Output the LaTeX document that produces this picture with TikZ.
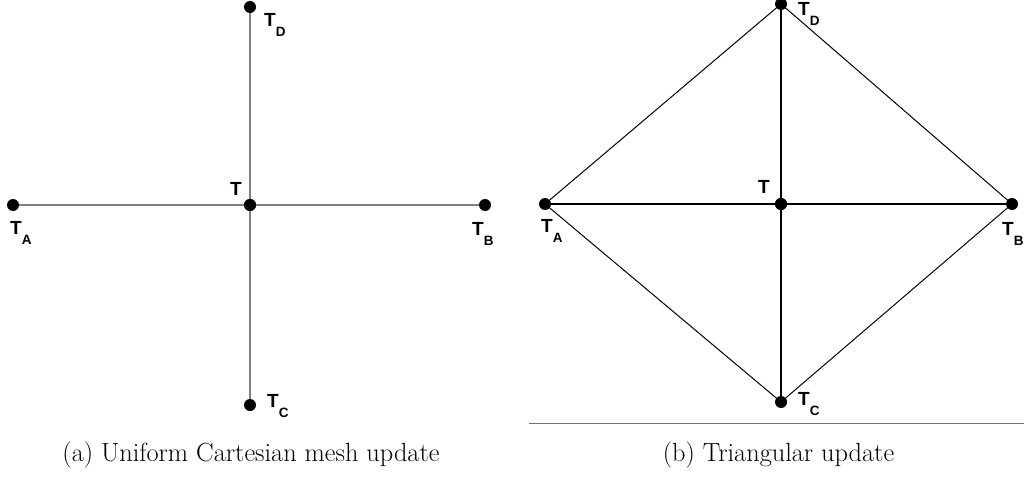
\documentclass[tikz,border=0pt]{standalone}
\usepackage{fontspec}
\newfontfamily\labfont{Liberation Sans}
\begin{document}
\begin{tikzpicture}[x=1pt,y=-1pt,
  dot/.style={circle,fill=black,inner sep=0pt,minimum size=12pt},
  lab/.style={inner sep=0pt,anchor=base west,font=\labfont\bfseries\fontsize{19}{19}\selectfont},
  captext/.style={inner sep=0pt,anchor=base,font=\fontsize{26.3}{26.3}\selectfont},
  grayedge/.style={draw=black!50,line width=1.5pt},
  crossedge/.style={draw=black,line width=1.6pt},
  diagedge/.style={draw=black,line width=1pt}]
\useasboundingbox (0,0) rectangle (1024,476);
\newcommand{\tsub}[1]{T\raisebox{-10pt}{\fontsize{13.5}{13.5}\selectfont #1}}
% left panel
\node[dot] (aT) at (250,205) {};
\node[dot] (aA) at (13,205) {};
\node[dot] (aB) at (485,205) {};
\node[dot] (aD) at (250,7) {};
\node[dot] (aC) at (250,405) {};
\draw[grayedge] (aA) -- (aB);
\draw[grayedge] (aD) -- (aC);
\node[dot] at (aT) {};
\node[lab] (laD) at (264,27) {\tsub{D}};
\node[lab] (laT) at (230,195) {T};
\node[lab] (laA) at (10,234) {\tsub{A}};
\node[lab] (laB) at (472,235) {\tsub{B}};
\node[lab] (laC) at (267,407) {\tsub{C}};
% right panel
\node[dot] (bT) at (781,204) {};
\node[dot] (bA) at (545,204) {};
\node[dot] (bB) at (1012,204) {};
\node[dot] (bD) at (781,4) {};
\node[dot] (bC) at (781,402) {};
\draw[diagedge] (bA.center) -- (bD.center) -- (bB.center) -- (bC.center) -- cycle;
\draw[crossedge] (bA) -- (bB);
\draw[crossedge] (bD) -- (bC);
\node[dot] at (bT) {};
\node[lab] (lbD) at (798,16) {\tsub{D}};
\node[lab] (lbT) at (758,193) {T};
\node[lab] (lbA) at (541,232) {\tsub{A}};
\node[lab] (lbB) at (1002,235) {\tsub{B}};
\node[lab] (lbC) at (798,405) {\tsub{C}};
% rule
\coordinate (r1) at (529,423);
\coordinate (r2) at (1024,423);
\draw[draw=black!55,line width=1pt] (r1) -- (r2);
% captions
\node[captext] (ca) at (251,461) {(a) Uniform Cartesian mesh update};
\node[captext] (cb) at (778.5,461) {(b) Triangular update};
\end{tikzpicture}
\end{document}
